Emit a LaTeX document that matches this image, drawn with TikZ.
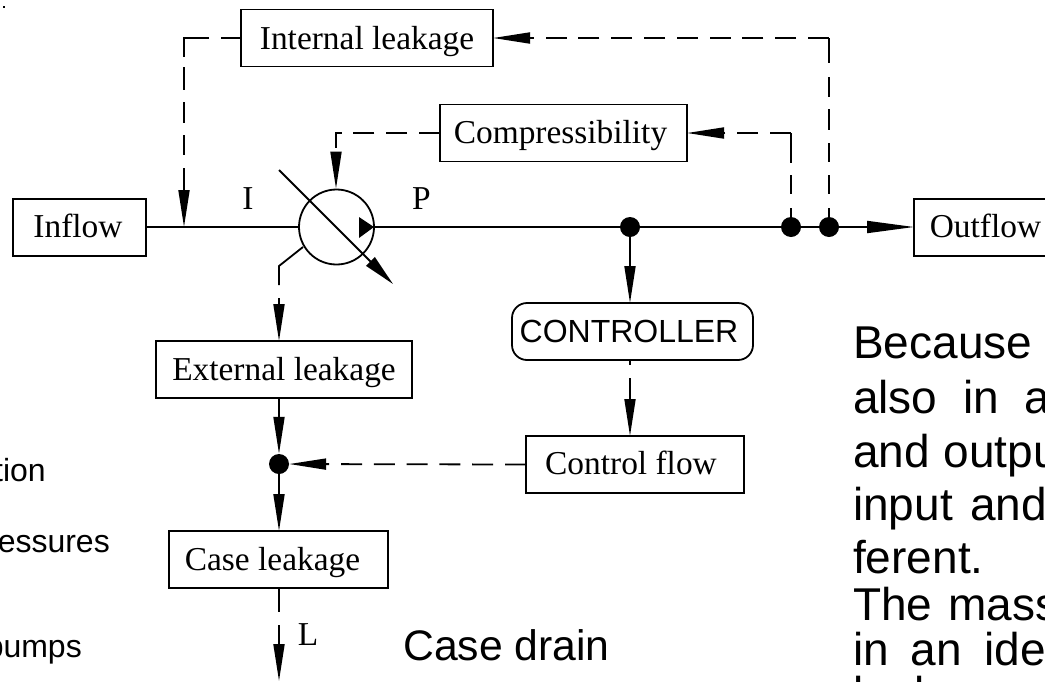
\documentclass[tikz,border=0pt]{standalone}
\usepackage{fontspec}
\setmainfont{Liberation Serif}
\setsansfont{Liberation Sans}
\usetikzlibrary{arrows.meta}
\begin{document}
\begin{tikzpicture}[yscale=-1
,lstyle/.style={color=black,line width=1.8pt}
,dstyle/.style={lstyle,dash pattern=on 21pt off 11.8pt}
,hstyle/.style={-{Triangle[length=37pt,width=11pt]}}
,bstyle/.style={draw=black,line width=1.8pt,fill=white,inner sep=0pt,outer sep=0pt,minimum height=57pt,font=\fontsize{33.4}{33.4}\selectfont,text height=26pt,text depth=4pt}
,blow/.style={bstyle,text height=24pt}
,jstyle/.style={circle,fill=black,inner sep=0pt,minimum size=20pt}
,lblstyle/.style={anchor=base,inner sep=0pt,font=\fontsize{33.4}{33.4}\selectfont}
,sidestyle/.style={anchor=base east,inner sep=0pt,font=\sffamily\fontsize{32}{32}\selectfont}
,parstyle/.style={anchor=base west,inner sep=0pt,font=\sffamily\fontsize{46}{46}\selectfont}
]
\useasboundingbox (0pt,0pt) rectangle (1045pt,681pt);
\node[inner sep=0pt,minimum size=1.5pt,fill=black] (speck) at (4pt,7pt) {};
% boxes
\node[blow,minimum width=133pt] (inflow) at (79.5pt,227.5pt) {Inflow\hspace*{3pt}};
\node[blow,minimum width=146pt] (outflow) at (987pt,227.5pt) {Outflow\hspace*{3pt}};
\node[bstyle,minimum width=252pt] (intleak) at (367pt,38pt) {Internal leakage};
\node[blow,minimum width=247pt] (compress) at (563.5pt,133pt) {Compressibility\hspace*{6pt}};
\node[bstyle,minimum width=256pt] (extleak) at (284pt,369.5pt) {External leakage};
\node[bstyle,minimum width=219pt] (caseleak) at (278.5pt,559.5pt) {Case leakage\hspace*{12pt}};
\node[blow,minimum width=218pt] (ctrlflow) at (635pt,464.5pt) {Control flow\hspace*{8pt}};
\node[bstyle,rounded corners=15pt,minimum width=241pt,font=\sffamily\fontsize{32}{32}\selectfont] (controller) at (632.5pt,331.5pt) {CONTROLLER\hspace*{7pt}};
% pump
\node[circle,draw=black,line width=1.8pt,inner sep=0pt,minimum size=75pt] (pump) at (336.5pt,227pt) {};
% junctions
\node[jstyle] (jctrl) at (630pt,227pt) {};
\node[jstyle] (jcomp) at (791pt,227pt) {};
\node[jstyle] (jint) at (829pt,227pt) {};
\node[jstyle] (jcase) at (279pt,464pt) {};
% bends and gaps
\coordinate (cint) at (184pt,38pt);
\coordinate (ccomp) at (336pt,133pt);
\coordinate (cret) at (829pt,38pt);
\coordinate (cback) at (791pt,133pt);
\coordinate (inlet) at (184pt,227pt);
\coordinate (drain0) at (303pt,247pt);
\coordinate (drain1) at (279pt,266pt);
\coordinate (drain2) at (279pt,285pt);
\coordinate (drain3) at (279pt,298pt);
\coordinate (case1) at (279pt,612pt);
\coordinate (case2) at (279pt,625pt);
\coordinate (case3) at (279pt,681pt);
\coordinate (ctl1) at (630pt,365pt);
\coordinate (ctl2) at (630pt,378pt);
\coordinate (var0) at (279pt,170pt);
\coordinate (var1) at (393pt,284pt);
% solid lines
\draw[lstyle] (pump.west -| inflow.east) -- (pump.west);
\draw[lstyle] (pump.east) -- (jctrl);
\draw[lstyle] (jctrl) -- (jcomp);
\draw[lstyle] (jcomp) -- (jint);
\draw[lstyle,-{Triangle[length=47pt,width=12pt]}] (jint) -- (jint -| outflow.west);
\draw[lstyle,hstyle] (jctrl) -- (jctrl |- controller.north);
\draw[lstyle] (jctrl |- controller.south) -- (ctl1);
\draw[lstyle,hstyle] (ctl2) -- (ctl2 |- ctrlflow.north);
\draw[lstyle] (drain0) -- (drain1) -- (drain2);
\draw[lstyle,hstyle] (drain3) -- (drain3 |- extleak.north);
\draw[lstyle,hstyle] (jcase |- extleak.south) -- (jcase);
\draw[lstyle,hstyle] (jcase) -- (jcase |- caseleak.north);
\draw[lstyle] (jcase |- caseleak.south) -- (case1);
\draw[lstyle,hstyle] (case2) -- (case3);
\draw[lstyle,-{Triangle[length=32pt,width=12pt]}] (var0) -- (var1);
% dashed lines
\draw[lstyle,hstyle,dash pattern=on 20pt off 12pt on 44pt off 10pt on 23pt off 12pt on 21pt off 12pt on 20pt off 13pt on 60pt off 1pt] (intleak.west) -- (cint) -- (inlet);
\draw[dstyle,hstyle] (compress.west) -- (ccomp) -- (ccomp |- pump.north);
\draw[dstyle,dash pattern=on 25pt off 14pt on 20pt off 12pt on 21pt off 13pt on 19pt off 13pt on 19pt off 14pt on 19pt off 1pt] (cret) -- (jint);
\draw[dstyle,hstyle] (cret) -- (intleak.east);
\draw[dstyle,dash pattern=on 30pt off 12pt on 19pt off 14pt on 19pt off 1pt] (cback) -- (jcomp);
\draw[dstyle,hstyle] (cback) -- (compress.east);
\draw[dstyle,hstyle] (ctrlflow.west) -- (jcase);
% pump triangle
\fill[black] (359pt,217pt) -- (374pt,227pt) -- (359pt,238pt) -- cycle;
% labels
\node[lblstyle] (lbli) at (248pt,209pt) {I};
\node[lblstyle] (lblp) at (421.5pt,209pt) {P};
\node[lblstyle] (lbll) at (308pt,645pt) {L};
\node[anchor=base west,inner sep=0pt,font=\sffamily\fontsize{42.7}{42.7}\selectfont] (lblcase) at (403pt,660pt) {Case drain};
% cut off text on the left
\node[sidestyle] (side1) at (46pt,481pt) {tion};
\node[sidestyle] (side2) at (110pt,552pt) {essures};
\node[sidestyle] (side3) at (82pt,657pt) {pumps};
% text on the right
\node[parstyle] (par1) at (853pt,358pt) {Because};
\node[parstyle] (par2) at (853pt,413pt) {also\hspace{13pt} in\hspace{13pt} a};
\node[parstyle] (par3) at (853pt,467pt) {and\hspace{1pt} outpu};
\node[parstyle] (par4) at (853pt,520pt) {input\hspace{4.5pt} and};
\node[parstyle] (par5) at (853pt,573pt) {ferent.};
\node[parstyle] (par6) at (853pt,620pt) {The\hspace{3pt} mass};
\node[parstyle] (par7) at (853pt,665pt) {in\hspace{9pt} an\hspace{10pt} ide};
\node[parstyle] (par8) at (853pt,709pt) {leakage};
\end{tikzpicture}
\end{document}
